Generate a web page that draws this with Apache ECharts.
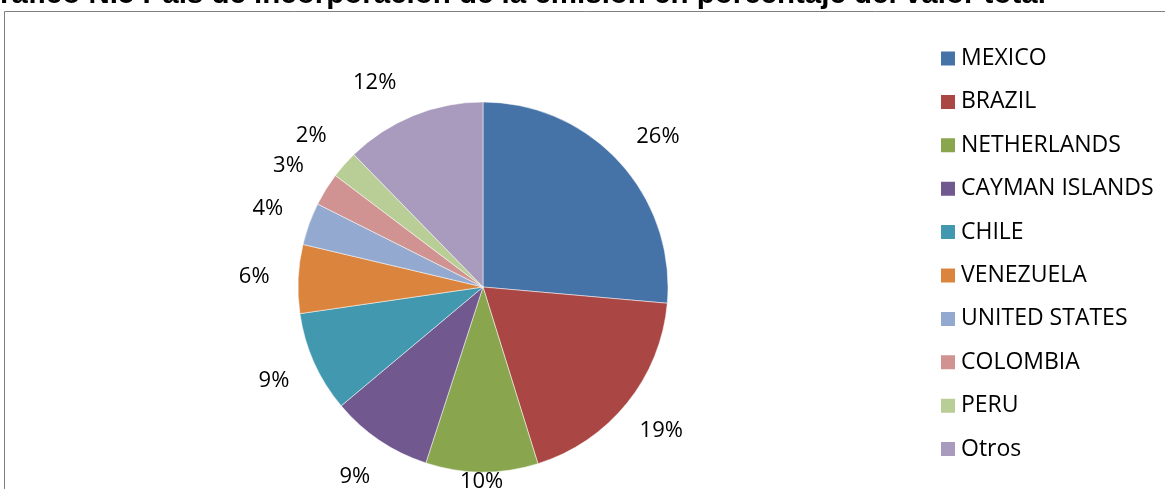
<!DOCTYPE html>
<html>
<head>
<meta charset="utf-8">
<script src="https://cdn.jsdelivr.net/npm/echarts@6/dist/echarts.min.js"></script>
<style>
  html, body { margin: 0; padding: 0; background: #fff; }
  #chart { width: 1165px; height: 489px; }
</style>
</head>
<body>
<div id="chart"></div>
<script>
const countries = ['MEXICO', 'BRAZIL', 'NETHERLANDS', 'CAYMAN ISLANDS', 'CHILE',
  'VENEZUELA', 'UNITED STATES', 'COLOMBIA', 'PERU', 'Otros'];
const shares = [26.4, 18.8, 9.8, 8.9, 8.8, 6.0, 3.7, 2.9, 2.4, 12.3];
const colors = ['#4572A7', '#AA4643', '#89A54E', '#71588F', '#4198AF',
  '#DB843D', '#93A9CF', '#D19392', '#B9CD96', '#A99BBD'];

const font = '"Open Sans", "Noto Sans", sans-serif';
const chart = echarts.init(document.getElementById('chart'));

const pieData = countries.map((name, i) => ({
  name: name,
  value: shares[i],
  itemStyle: { color: colors[i] }
}));

chart.setOption({
  animation: false,
  title: {
    text: 'Gráfico N.5 País de incorporación de la emisión en porcentaje del valor total',
    left: -23,
    top: -20,
    padding: 0,
    textStyle: {
      fontFamily: '"Liberation Sans", Arial, sans-serif',
      fontWeight: 'bold',
      fontSize: 29.5,
      color: '#000'
    }
  },
  graphic: [{
    type: 'rect',
    shape: { x: 4.5, y: 11.5, width: 1300, height: 600 },
    style: { fill: 'none', stroke: '#808080', lineWidth: 1 },
    silent: true
  }],
  legend: {
    orient: 'vertical',
    left: 934,
    top: 42,
    itemWidth: 16,
    itemHeight: 16,
    itemGap: 20.4,
    icon: 'rect',
    data: countries,
    textStyle: { fontFamily: font, fontSize: 23, color: '#000' }
  },
  series: [{
    type: 'pie',
    center: [483, 287],
    radius: 185,
    startAngle: 90,
    clockwise: true,
    label: { show: false },
    labelLine: { show: false },
    itemStyle: { borderColor: '#fff', borderWidth: 0.5 },
    data: pieData
  }, {
    // transparent ring only used to place the percentage labels
    type: 'pie',
    center: [483, 287],
    radius: [185, 267],
    startAngle: 90,
    clockwise: true,
    silent: true,
    legendHoverLink: false,
    percentPrecision: 0,
    itemStyle: { color: 'transparent' },
    label: {
      show: true,
      position: 'inside',
      formatter: '{d}%',
      fontFamily: font,
      fontSize: 22,
      color: '#000'
    },
    labelLayout: function (p) {
      if (p.dataIndex === 0) return { dx: 6, dy: 4 };
      if (p.dataIndex === 2) return { dy: -34 };
      if (p.dataIndex === 9) return { dx: -22, dy: 8 };
      return {};
    },
    data: countries.map((name, i) => ({ name: name, value: shares[i] }))
  }]
});
</script>
</body>
</html>
